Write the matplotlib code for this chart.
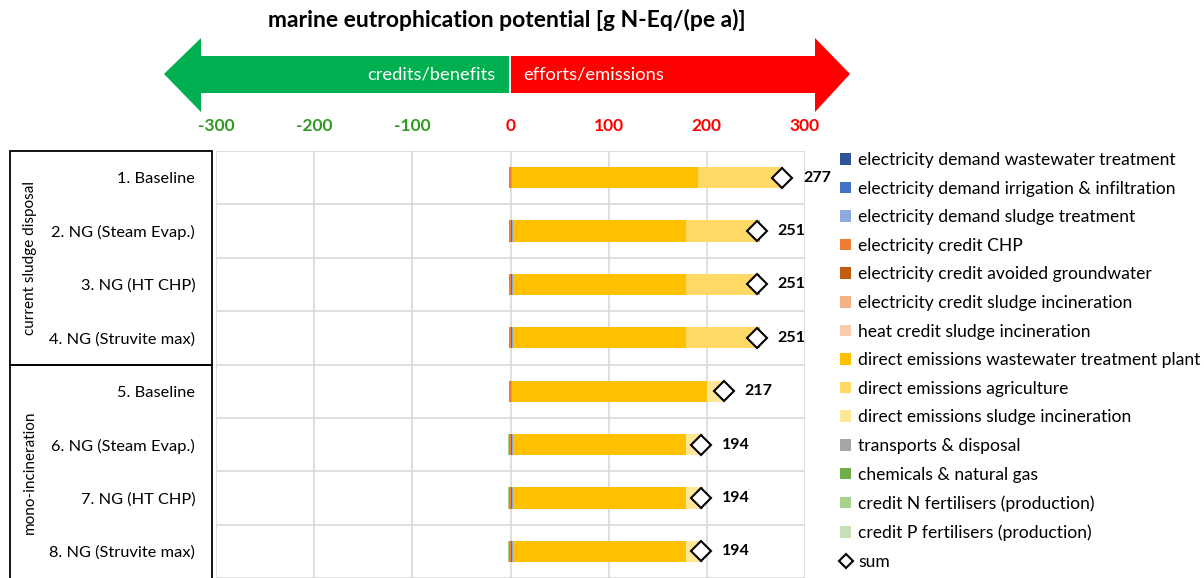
import numpy as np
import matplotlib
matplotlib.use("Agg")
import matplotlib.pyplot as plt
from matplotlib.patches import Polygon, Rectangle
from matplotlib.lines import Line2D

plt.rcParams['font.family'] = ['Lato', 'DejaVu Sans']
plt.rcParams['axes.unicode_minus'] = False

scenarios = ['1. Baseline', '2. NG (Steam Evap.)', '3. NG (HT CHP)', '4. NG (Struvite max)',
             '5. Baseline', '6. NG (Steam Evap.)', '7. NG (HT CHP)', '8. NG (Struvite max)']
groups = ['current sludge disposal', 'mono-incineration']

# contributions [g N-Eq/(pe a)]
elec_ww = [1.0, 1.0, 1.0, 1.0, 1.0, 1.0, 1.0, 1.0]
elec_irr = [0.0, 0.8, 0.8, 0.8, 0.0, 0.8, 0.8, 0.8]
elec_sludge = [0.3, 0.3, 0.3, 0.3, 0.3, 0.3, 0.3, 0.3]
credit_chp = [-1.2, -1.2, -1.2, -1.2, -1.2, -1.2, -1.2, -1.2]
credit_gw = [0.0, -0.3, -0.3, -0.3, 0.0, -0.3, -0.3, -0.3]
credit_inc = [0.0, 0.0, 0.0, 0.0, -0.3, -0.3, -0.3, -0.3]
credit_heat = [0.0, 0.0, 0.0, 0.0, -0.2, -0.2, -0.2, -0.2]
dir_wwtp = [190.0, 176.5, 176.5, 176.5, 199.0, 177.0, 177.0, 177.0]
dir_agri = [85.4, 74.6, 74.6, 74.6, 0.0, 0.0, 0.0, 0.0]
dir_inc = [0.0, 0.0, 0.0, 0.0, 17.6, 16.3, 16.3, 16.3]
transport = [0.5, 0.5, 0.5, 0.5, 0.5, 0.5, 0.5, 0.5]
chemicals = [0.2, 0.3, 0.3, 0.3, 0.3, 0.3, 0.3, 0.3]
credit_n = [0.0, -0.2, -0.2, -0.2, 0.0, -0.2, -0.2, -0.2]
credit_p = [0.0, -0.3, -0.3, -0.3, 0.0, -0.3, -0.3, -0.3]
sums = [277, 251, 251, 251, 217, 194, 194, 194]

series = [
    ('electricity demand wastewater treatment', elec_ww, '#2F5597'),
    ('electricity demand irrigation & infiltration', elec_irr, '#4472C4'),
    ('electricity demand sludge treatment', elec_sludge, '#8FAADC'),
    ('electricity credit CHP', credit_chp, '#ED7D31'),
    ('electricity credit avoided groundwater', credit_gw, '#C55A11'),
    ('electricity credit sludge incineration', credit_inc, '#F4B183'),
    ('heat credit sludge incineration', credit_heat, '#F8CBAD'),
    ('direct emissions wastewater treatment plant', dir_wwtp, '#FFC000'),
    ('direct emissions agriculture', dir_agri, '#FFD966'),
    ('direct emissions sludge incineration', dir_inc, '#FFE699'),
    ('transports & disposal', transport, '#A5A5A5'),
    ('chemicals & natural gas', chemicals, '#70AD47'),
    ('credit N fertilisers (production)', credit_n, '#A9D18E'),
    ('credit P fertilisers (production)', credit_p, '#C5E0B4'),
]

W, H = 1204, 578
fig = plt.figure(figsize=(W / 100, H / 100), dpi=100)

ax = fig.add_axes([216 / W, 0.0, (805 - 216) / W, 1 - 151 / H])
y = np.arange(len(scenarios))
pos = np.zeros(len(y))
neg = np.zeros(len(y))
handles = []
for name, vals, col in series:
    v = np.array(vals)
    left = np.where(v >= 0, pos, neg)
    b = ax.barh(y, v, left=left, height=0.4, color=col, label=name, zorder=3)
    pos += np.clip(v, 0, None)
    neg += np.clip(v, None, 0)
    handles.append(b)

ax.plot(sums, y, ls='none', marker='D', ms=10, mfc='white', mec='black', mew=1.5, zorder=5)
for yi, s in zip(y, sums):
    ax.annotate(str(s), (s, yi), xytext=(15, 0), textcoords='offset points',
                va='center', ha='left', fontsize=11.5, fontweight='bold')

ax.set_xlim(-300, 300)
ax.set_ylim(len(y) - 0.5, -0.5)
ax.set_xticks(np.arange(-300, 301, 100))
ax.xaxis.tick_top()
ax.tick_params(axis='x', length=0, pad=12, labelsize=12.5)
for lab, t in zip(ax.get_xticklabels(), np.arange(-300, 301, 100)):
    lab.set_fontweight('bold')
    lab.set_color('#2E9A1E' if t < 0 else '#FF0000')
ax.set_yticks(y)
ax.set_yticklabels(scenarios, fontsize=11.8)
ax.set_yticks(np.arange(-0.5, len(y), 1), minor=True)
ax.tick_params(axis='y', which='both', length=0, pad=15)
ax.grid(True, axis='x', color='#D9D9D9', lw=1.2, zorder=0)
ax.grid(True, axis='y', which='minor', color='#D9D9D9', lw=1.2, zorder=0)
for sp in ax.spines.values():
    sp.set_visible(False)

# overlay in pixel coordinates for decorations
ov = fig.add_axes([0, 0, 1, 1], zorder=-1)
ov.set_xlim(0, W)
ov.set_ylim(H, 0)
ov.axis('off')

ov.text(507, 20, 'marine eutrophication potential [g N-Eq/(pe a)]', ha='center', va='center',
        fontsize=16.5, fontweight='bold')
green = Polygon([(164, 74), (201, 38), (201, 56), (509, 56), (509, 93), (201, 93), (201, 112)],
                closed=True, color='#00B050', lw=0)
red = Polygon([(511, 56), (815, 56), (815, 38), (850, 74), (815, 112), (815, 93), (511, 93)],
              closed=True, color='#FF0000', lw=0)
ov.add_patch(green)
ov.add_patch(red)
ov.text(495, 75, 'credits/benefits', color='white', ha='right', va='center', fontsize=13.2)
ov.text(523, 75, 'efforts/emissions', color='white', ha='left', va='center', fontsize=13.2)

ov.add_patch(Rectangle((10, 151), 202, 214, fill=False, ec='black', lw=1.3))
ov.add_patch(Rectangle((10, 365), 202, 220, fill=False, ec='black', lw=1.3, clip_on=False))
ov.text(30, 258, groups[0], rotation=90, ha='center', va='center', fontsize=11)
ov.text(30, 472, groups[1], rotation=90, ha='center', va='center', fontsize=11)

sum_handle = Line2D([], [], ls='none', marker='D', ms=7.5, mfc='white', mec='black', mew=1.5)
labels = [s[0] for s in series] + ['sum']
fig.legend(handles + [sum_handle], labels, loc='upper left', bbox_to_anchor=(840 / W, 1 - 152 / H),
           frameon=False, fontsize=12.6, handlelength=0.65, handleheight=0.65, handletextpad=0.4,
           labelspacing=0.72, borderaxespad=0, borderpad=0)

fig.savefig('out.png', dpi=100)
